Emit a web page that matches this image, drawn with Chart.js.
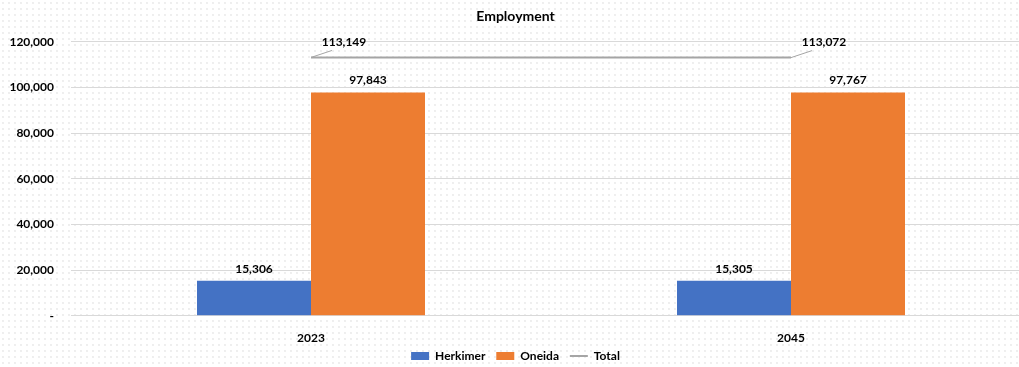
<!DOCTYPE html>
<html>
<head>
<meta charset="utf-8">
<script src="https://cdn.jsdelivr.net/npm/chart.js@4.4.0/dist/chart.umd.min.js"></script>
<style>
  html, body { margin: 0; padding: 0; }
  body {
    width: 1019px; height: 367px; overflow: hidden;
    background-color: #ffffff;
    background-image: radial-gradient(circle, #e6e6e6 0.6px, transparent 0.9px);
    background-size: 6px 6px;
  }
  #main-chart { display: block; }
</style>
</head>
<body>
<!-- the plot area runs a little past the right edge of the window, like the original -->
<canvas id="main-chart" width="1040" height="367"></canvas>
<script>
const years = ["2023", "2045"];
const herkimer = [15306, 15305];
const oneida = [97843, 97767];
const total = [113149, 113072];
const y_ticks = [0, 20000, 40000, 60000, 80000, 100000, 120000];

const font_family = "Lato, 'Open Sans', sans-serif";

function fmt(v)
{
    return v.toLocaleString("en-US");
}

// labels over bars, and the offset labels with leader lines for the total
const value_labels = {
    id: "value_labels",
    afterDatasetsDraw(chart)
    {
        const ctx = chart.ctx;
        ctx.save();
        ctx.font = "bold 12px " + font_family;
        ctx.fillStyle = "#000000";
        ctx.textAlign = "center";
        ctx.textBaseline = "bottom";
        for (let d = 0; d < 2; d++) {
            const meta = chart.getDatasetMeta(d);
            meta.data.forEach((bar, i) => {
                ctx.fillText(fmt(chart.data.datasets[d].data[i]), bar.x, bar.y - 6);
            });
        }
        const meta = chart.getDatasetMeta(2);
        meta.data.forEach((pt, i) => {
            ctx.strokeStyle = "#a5a5a5";
            ctx.lineWidth = 1;
            ctx.beginPath();
            ctx.moveTo(pt.x, pt.y);
            ctx.lineTo(pt.x + 21, pt.y - 7);
            ctx.stroke();
            ctx.fillText(fmt(total[i]), pt.x + 33, pt.y - 9);
        });
        ctx.restore();
    }
};

const config = {
    data: {
        labels: years,
        datasets: [
            {
                type: "bar",
                label: "Herkimer",
                data: herkimer,
                backgroundColor: "#4472c4",
                borderWidth: 0,
                pointStyle: "rect",
                order: 2
            },
            {
                type: "bar",
                label: "Oneida",
                data: oneida,
                backgroundColor: "#ed7d31",
                borderWidth: 0,
                pointStyle: "rect",
                order: 2
            },
            {
                type: "line",
                label: "Total",
                data: total,
                borderColor: "#a5a5a5",
                backgroundColor: "#a5a5a5",
                borderWidth: 2,
                pointRadius: 0,
                pointStyle: "line",
                order: 1
            }
        ]
    },
    options: {
        responsive: false,
        animation: false,
        layout: { padding: { left: 0, right: 9, top: 0, bottom: -5 } },
        datasets: {
            bar: { categoryPercentage: 0.475, barPercentage: 1.0 }
        },
        plugins: {
            title: {
                display: true,
                text: "Employment",
                color: "#000000",
                font: { family: font_family, size: 14, weight: "bold" },
                padding: { top: 8, bottom: 17 }
            },
            legend: {
                position: "bottom",
                labels: {
                    usePointStyle: true,
                    pointStyleWidth: 18,
                    boxHeight: 8,
                    color: "#000000",
                    padding: 5,
                    sort: (a, b) => a.datasetIndex - b.datasetIndex,
                    font: { family: font_family, size: 12, weight: "bold", lineHeight: 1 },
                    generateLabels(chart) {
                        const items = Chart.defaults.plugins.legend.labels.generateLabels(chart);
                        items.forEach(it => { if (it.datasetIndex < 2) it.text += "  "; });
                        return items;
                    }
                }
            },
            tooltip: { enabled: false }
        },
        scales: {
            x: {
                grid: { display: false, tickLength: 14.8 },
                border: { display: false },
                ticks: {
                    color: "#000000",
                    padding: 0,
                    font: { family: font_family, size: 12, weight: "bold" }
                }
            },
            y: {
                min: 0,
                max: 120000,
                afterBuildTicks(axis) { axis.ticks = y_ticks.map(v => ({ value: v })); },
                afterFit(axis) { axis.width = 71; },
                grid: { color: "#d9d9d9", lineWidth: 1, drawTicks: false },
                border: { display: false },
                ticks: {
                    color: "#000000",
                    padding: 17,
                    font: { family: font_family, size: 12, weight: "bold" },
                    callback: v => v === 0 ? "-" : fmt(v)
                }
            }
        }
    },
    plugins: [value_labels]
};

new Chart(document.getElementById("main-chart").getContext("2d"), config);
</script>
</body>
</html>
